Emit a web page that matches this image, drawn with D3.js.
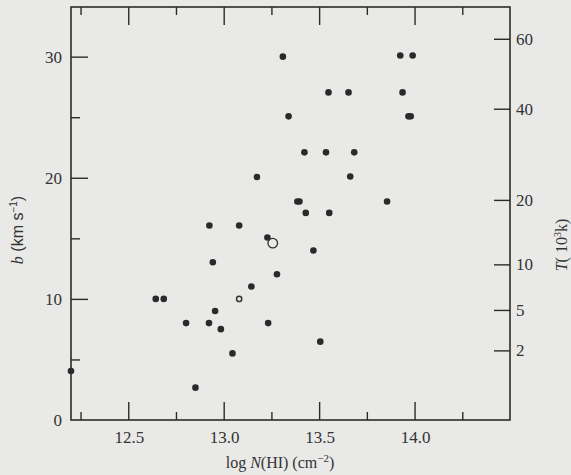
<!DOCTYPE html>
<html>
<head>
<meta charset="utf-8">
<script src="https://cdn.jsdelivr.net/npm/d3@7"></script>
<style>
  body { margin: 0; background: #e9e9e7; }
  svg { display: block; }
</style>
</head>
<body>
<svg width="571" height="475"></svg>
<script>
// Data: filled points (log N(HI), b)
const logN = [13.31, 13.925, 13.99, 13.549, 13.654, 13.937, 13.34, 13.968, 13.98,
  13.423, 13.536, 13.684, 13.174, 13.663, 13.386, 13.397, 13.856, 13.43, 13.553,
  12.925, 13.081, 13.229, 13.47, 12.943, 13.279, 13.145, 12.644, 12.686, 12.955,
  12.803, 12.923, 13.233, 12.985, 13.506, 13.046, 12.2, 12.852];
const bVals = [30.0, 30.1, 30.1, 27.05, 27.05, 27.05, 25.07, 25.07, 25.07,
  22.1, 22.1, 22.1, 20.06, 20.1, 18.04, 18.04, 18.04, 17.1, 17.1,
  16.06, 16.06, 15.07, 14.0, 13.03, 12.04, 11.02, 10.0, 10.0, 9.0,
  8.0, 8.0, 8.0, 7.5, 6.47, 5.5, 4.05, 2.67];
// open symbols
const openLogN = [13.257, 13.081];
const openB = [14.6, 10.0];
const openSize = ["big", "small"];

const xMajor = [12.5, 13.0, 13.5, 14.0];
const xMinor = [12.25, 12.75, 13.25, 13.75, 14.25];
const xLabels = ["12.5", "13.0", "13.5", "14.0"];
const yMajor = [10, 20, 30];
const yMinor = [5, 15, 25];
const yLabels = ["0", "10", "20", "30"];
const tTicks = [2, 5, 10, 20, 40, 60]; // T in 10^3 K

const svg = d3.select("svg");
const mLeft = 71, mRight = 510, mTop = 7, mBottom = 420;
const ink = "#2b2b2b";

const x = d3.scaleLinear().domain([12.2, 14.5]).range([mLeft, mRight]);
const y = d3.scaleLinear().domain([0, 34.1]).range([mBottom, mTop]);
// thermal width of hydrogen: b = sqrt(2kT/m_H) = 0.1285 sqrt(T) km/s
const bOfT = t => 0.1285 * Math.sqrt(t * 1000);

const serif = "'Liberation Serif', 'DejaVu Serif', serif";

// frame
svg.append("rect")
  .attr("x", mLeft).attr("y", mTop)
  .attr("width", mRight - mLeft).attr("height", mBottom - mTop)
  .attr("fill", "none").attr("stroke", ink).attr("stroke-width", 1.6);

// bottom and top ticks
const bottomAxis = d3.axisBottom(x).tickValues(xMajor).tickSize(-18).tickFormat("");
const bottomMinor = d3.axisBottom(x).tickValues(xMinor).tickSize(-8).tickFormat("");
const topAxis = d3.axisTop(x).tickValues(xMajor).tickSize(-18).tickFormat("");
const topMinor = d3.axisTop(x).tickValues(xMinor).tickSize(-8).tickFormat("");
svg.append("g").attr("transform", `translate(0,${mBottom})`).call(bottomAxis);
svg.append("g").attr("transform", `translate(0,${mBottom})`).call(bottomMinor);
svg.append("g").attr("transform", `translate(0,${mTop})`).call(topAxis);
svg.append("g").attr("transform", `translate(0,${mTop})`).call(topMinor);

// left ticks
svg.append("g").attr("transform", `translate(${mLeft},0)`)
  .call(d3.axisLeft(y).tickValues(yMajor).tickSize(-17).tickFormat(""));
svg.append("g").attr("transform", `translate(${mLeft},0)`)
  .call(d3.axisLeft(y).tickValues(yMinor).tickSize(-9).tickFormat(""));

// right ticks (temperature)
svg.append("g").attr("transform", `translate(${mRight},0)`)
  .call(d3.axisRight(y).tickValues(tTicks.map(bOfT)).tickSize(-16).tickFormat(""));

svg.selectAll(".domain").remove();
svg.selectAll(".tick line").attr("stroke", ink).attr("stroke-width", 1.4);

// tick labels
svg.append("g").selectAll("text")
  .data(xMajor)
  .join("text")
    .attr("x", d => x(d) + 1)
    .attr("y", 443)
    .attr("text-anchor", "middle")
    .attr("font-family", serif).attr("font-size", 17).attr("fill", "#333")
    .text((d, i) => xLabels[i]);

svg.append("g").selectAll("text")
  .data([0].concat(yMajor))
  .join("text")
    .attr("x", 62)
    .attr("y", d => y(d) + 6)
    .attr("text-anchor", "end")
    .attr("font-family", serif).attr("font-size", 17).attr("fill", "#333")
    .text((d, i) => yLabels[i]);

svg.append("g").selectAll("text")
  .data(tTicks)
  .join("text")
    .attr("x", 516)
    .attr("y", d => y(bOfT(d)) + 6)
    .attr("font-family", serif).attr("font-size", 17).attr("fill", "#333")
    .text(d => d);

// axis titles
const xt = svg.append("text")
  .attr("x", 280).attr("y", 468)
  .attr("text-anchor", "middle")
  .attr("font-family", serif).attr("font-size", 16).attr("fill", "#333");
xt.append("tspan").text("log  ");
xt.append("tspan").attr("font-style", "italic").text("N");
xt.append("tspan").text("(HI) (cm");
xt.append("tspan").attr("dy", -6).attr("font-size", 11).text("−2");
xt.append("tspan").attr("dy", 6).text(")");

const yt = svg.append("text")
  .attr("transform", "translate(23,230) rotate(-90)")
  .attr("text-anchor", "middle")
  .attr("font-family", "'Liberation Sans', Arial, sans-serif").attr("font-size", 16).attr("fill", "#333");
yt.append("tspan").attr("font-style", "italic").attr("font-family", serif).text("b");
yt.append("tspan").text(" (km  s");
yt.append("tspan").attr("dy", -6).attr("font-size", 10).text("−1");
yt.append("tspan").attr("dy", 6).text(")");

const rt = svg.append("text")
  .attr("transform", "translate(567,245) rotate(-90)")
  .attr("text-anchor", "middle")
  .attr("font-family", serif).attr("font-size", 16).attr("fill", "#333");
rt.append("tspan").attr("font-style", "italic").text("T");
rt.append("tspan").text("( 10");
rt.append("tspan").attr("dy", -6).attr("font-size", 10).text("3");
rt.append("tspan").attr("dy", 6).text("k)");

// points
svg.append("g").selectAll("circle")
  .data(logN.map((v, i) => [v, bVals[i]]))
  .join("circle")
    .attr("cx", d => x(d[0]))
    .attr("cy", d => y(d[1]))
    .attr("r", 3.3)
    .attr("fill", "#2a2a2a");

svg.append("g").selectAll("circle")
  .data(openLogN.map((v, i) => [v, openB[i], openSize[i]]))
  .join("circle")
    .attr("cx", d => x(d[0]))
    .attr("cy", d => y(d[1]))
    .attr("r", d => d[2] === "big" ? 4.8 : 2.6)
    .attr("fill", "none")
    .attr("stroke", "#333")
    .attr("stroke-width", d => d[2] === "big" ? 1.3 : 1.5);
</script>
</body>
</html>
